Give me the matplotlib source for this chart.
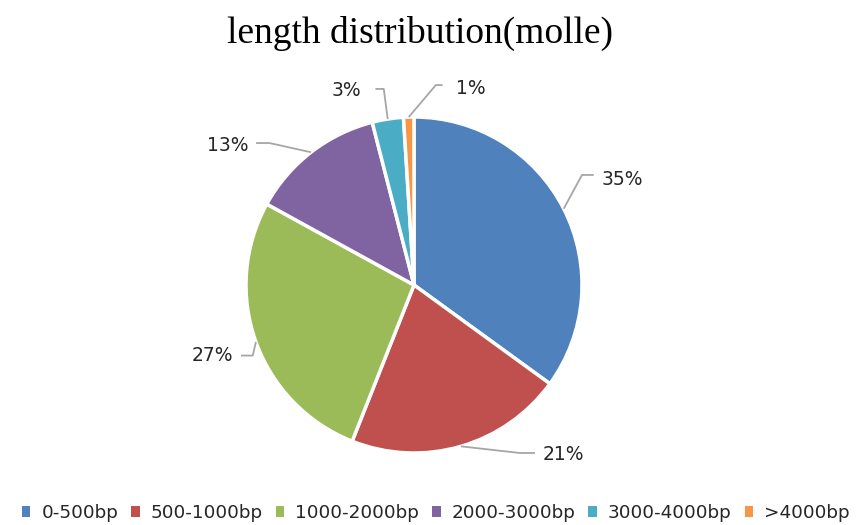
import matplotlib

matplotlib.use("Agg")
import matplotlib.pyplot as plt
import numpy as np

# data
categories = ["0-500bp", "500-1000bp", "1000-2000bp", "2000-3000bp", "3000-4000bp", ">4000bp"]
shares = [35, 21, 27, 13, 3, 1]
colors = ["#4F81BD", "#C0504D", "#9BBB59", "#8064A2", "#4BACC6", "#F79646"]

# label placement (axes data units, pie radius = 1): text centre, elbow point
label_pos = [(1.24, 0.63), (0.89, -1.01), (-1.20, -0.42), (-1.11, 0.83), (-0.40, 1.16), (0.34, 1.17)]
elbow_pos = [(1.00, 0.655), (0.63, -1.00), (-0.96, -0.42), (-0.86, 0.845), (-0.18, 1.167), (0.13, 1.19)]

W, H = 863, 525
fig = plt.figure(figsize=(W / 100, H / 100), dpi=100)

cx, cy, r = 414, 285, 168
ax = fig.add_axes([(cx - r) / W, (H - cy - r) / H, 2 * r / W, 2 * r / H])
wedges, _ = ax.pie(
    shares,
    colors=colors,
    startangle=90,
    counterclock=False,
    radius=1.0,
    wedgeprops=dict(edgecolor="white", linewidth=2.5),
)
ax.set_xlim(-1, 1)
ax.set_ylim(-1, 1)
ax.set_aspect("equal")
ax.axis("off")

total = sum(shares)
for w, val, (tx, ty), (ex, ey) in zip(wedges, shares, label_pos, elbow_pos):
    ang = np.deg2rad((w.theta1 + w.theta2) / 2)
    px, py = np.cos(ang), np.sin(ang)
    side = 1 if tx > ex else -1
    endx = tx - side * 0.17
    ax.plot([px, ex, endx], [py, ey, ey], color="#A6A6A6", linewidth=1.3,
            clip_on=False, solid_capstyle="butt")
    ax.text(tx, ty, f"{round(val / total * 100)}%", ha="center", va="center",
            fontsize=13.5, color="#262626", family="DejaVu Sans")

fig.text(0.487, 0.937, "length distribution(molle)", ha="center", va="center",
         fontsize=27, family="Liberation Serif", color="black")

leg = fig.legend(
    wedges, categories,
    loc="center", bbox_to_anchor=(0.505, 1 - 513 / H),
    ncol=6, frameon=False,
    handlelength=0.47, handleheight=0.47, handletextpad=0.6,
    columnspacing=0.7, borderpad=0.0, borderaxespad=0.0,
    prop=dict(family="DejaVu Sans", size=13.2),
)
for t in leg.get_texts():
    t.set_color("#262626")
for h in leg.legend_handles:
    h.set_edgecolor("none")

fig.savefig("out.png", dpi=100)
